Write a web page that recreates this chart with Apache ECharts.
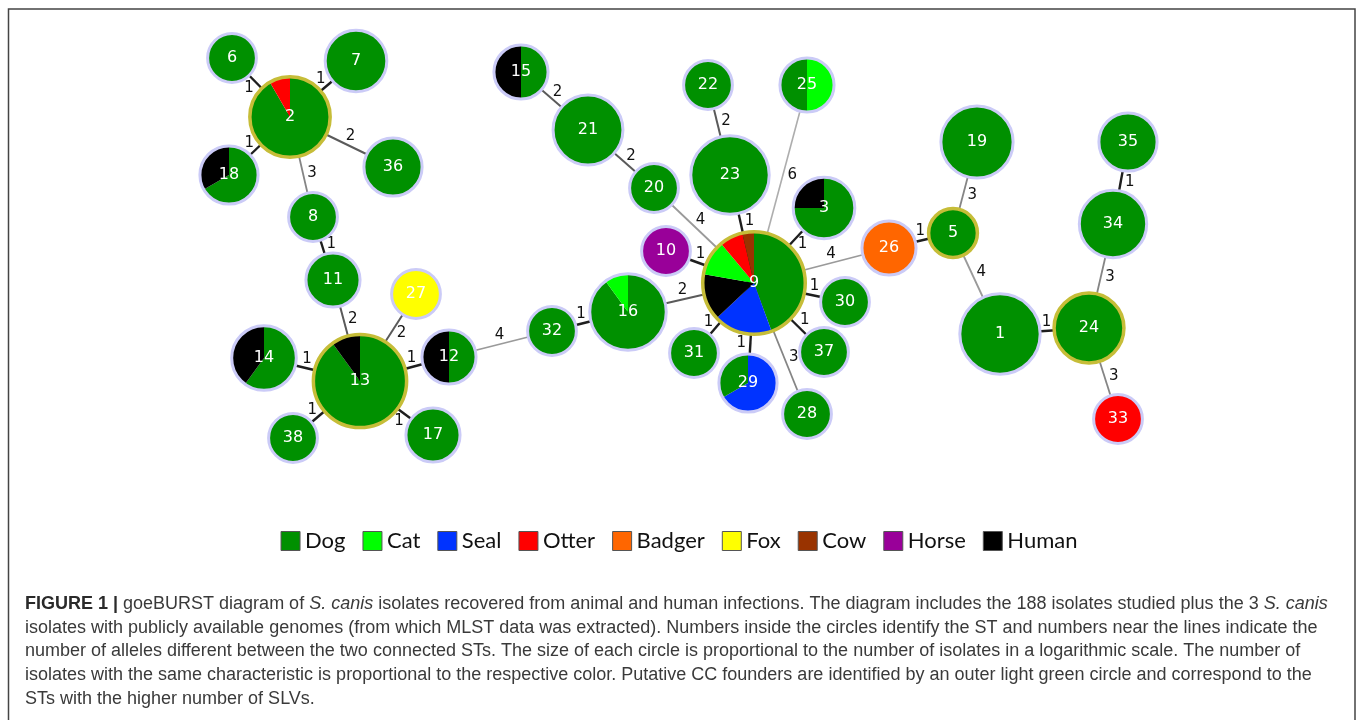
<!DOCTYPE html>
<html><head><meta charset="utf-8">
<script src="https://cdn.jsdelivr.net/npm/echarts@6/dist/echarts.min.js"></script>
<style>html,body{margin:0;padding:0;background:#fff}#c{width:1358px;height:720px}</style>
</head><body><div id="c"></div>
<script>
// ---- data ----
const species = ['Dog','Cat','Seal','Otter','Badger','Fox','Cow','Horse','Human'];
const stIds = [1,2,3,5,6,7,8,9,10,11,12,13,14,15,16,17,18,19,20,21,22,23,24,25,26,27,28,29,30,31,32,33,34,35,36,37,38];
// layout coordinates of each ST node in the goeBURST diagram
const stX = [1000,290,824,953,232,356,313,754,666,333,449,360,264,521,628,433,229,977,654,588,708,730,1089,807,889,416,807,748,845,694,552,1118,1113,1128,393,824,293];
const stY = [334,117,208,233,58,61,217,283,251,280,357,381,358,72,312,435,175,142,188,130,85,175,328,85,248,294,414,383,302,353,331,419,224,142,167,352,438];
// isolates per ST by host (slice order clockwise from 12 o'clock)
const stIsolates = [
  [['Dog',12]],
  [['Dog',11],['Otter',1]],
  [['Dog',3],['Human',1]],
  [['Dog',1]],
  [['Dog',1]],
  [['Dog',4]],
  [['Dog',1]],
  [['Dog',12],['Seal',5],['Human',4],['Cat',3],['Otter',2],['Cow',1]],
  [['Horse',1]],
  [['Dog',2]],
  [['Dog',1],['Human',1]],
  [['Dog',18],['Human',2]],
  [['Dog',3],['Human',2]],
  [['Dog',1],['Human',1]],
  [['Dog',9],['Cat',1]],
  [['Dog',2]],
  [['Dog',2],['Human',1]],
  [['Dog',8]],
  [['Dog',1]],
  [['Dog',7]],
  [['Dog',1]],
  [['Dog',11]],
  [['Dog',7]],
  [['Cat',1],['Dog',1]],
  [['Badger',2]],
  [['Fox',1]],
  [['Dog',1]],
  [['Seal',2],['Dog',1]],
  [['Dog',1]],
  [['Dog',1]],
  [['Dog',1]],
  [['Otter',1]],
  [['Dog',6]],
  [['Dog',3]],
  [['Dog',3]],
  [['Dog',1]],
  [['Dog',1]]
];
const founders = [2,5,9,13,24];
const edgeFrom = [2,2,2,2,18,8,11,27,14,13,38,17,12,32,16,31,29,9,3,9,9,9,10,20,23,25,15,21,22,26,19,5,1,34,24,35];
const edgeTo   = [6,7,36,8,2,11,13,13,13,12,13,13,32,16,9,9,9,28,9,30,37,26,9,9,9,9,21,20,23,5,5,1,24,24,33,34];
const edgeDist = [1,1,2,3,1,1,2,2,1,1,1,1,4,1,2,1,1,3,1,1,1,4,1,4,1,6,2,2,2,1,3,4,1,3,3,1];

// ---- styles ----
const speciesColors = ['#009000','#00ff00','#0033ff','#ff0000','#ff6600','#ffff00','#993300','#990099','#000000'];
const colorOf = {}; species.forEach((s,i)=>colorOf[s]=speciesColors[i]);
const edgeShade = {1:['#1e1e1e',2.4],2:['#5a5a5a',2],3:['#858585',1.8],4:['#9a9a9a',1.8],6:['#adadad',1.6]};

function totalOf(i){return stIsolates[i].reduce((a,p)=>a+p[1],0);}
function radiusOf(i){return 19.5 + 6.4*Math.sqrt(totalOf(i));}
const idxOf = id => stIds.indexOf(id);

const chart = echarts.init(document.getElementById('c'));

const nodeSeries = {
  type:'custom', name:'nodes', coordinateSystem:'cartesian2d', z:3, clip:false, silent:true,
  data: stIds.map((id,i)=>[stX[i], stY[i], i]),
  encode:{x:0,y:1},
  renderItem:(params, api)=>{
    const i = api.value(2);
    const c = api.coord([api.value(0), api.value(1)]);
    const unit = api.size([1,0])[0];
    const r = radiusOf(i)*unit;
    const total = totalOf(i);
    const children = [];
    let a = -Math.PI/2;
    stIsolates[i].forEach(([sp,n])=>{
      const da = n/total*2*Math.PI;
      children.push({type:'sector', shape:{cx:c[0],cy:c[1],r0:0,r:r-2,startAngle:a,endAngle:a+da,clockwise:true}, style:{fill:colorOf[sp]}});
      a += da;
    });
    const founder = founders.includes(stIds[i]);
    children.push({type:'circle', shape:{cx:c[0],cy:c[1],r:r-1.5}, style:{fill:'none', stroke: founder?'#c6bd38':'#cbcbf7', lineWidth: founder?3.5:3}});
    children.push({type:'text', x:c[0], y:c[1], style:{text:String(stIds[i]), fill:'#fff', font:'16px "DejaVu Sans"', align:'center', verticalAlign:'middle'}});
    return {type:'group', children};
  }
};

const edgeSeries = {
  type:'custom', name:'edges', coordinateSystem:'cartesian2d', z:2, clip:false, silent:true,
  data: edgeFrom.map((f,k)=>{const a=idxOf(f), b=idxOf(edgeTo[k]); return [stX[a], stY[a], stX[b], stY[b], a, b, edgeDist[k]];}),
  encode:{x:[0,2], y:[1,3]},
  renderItem:(params, api)=>{
    const p = api.coord([api.value(0), api.value(1)]);
    const q = api.coord([api.value(2), api.value(3)]);
    const unit = api.size([1,0])[0];
    const ra = radiusOf(api.value(4))*unit, rb = radiusOf(api.value(5))*unit;
    const d = api.value(6);
    const dx = q[0]-p[0], dy = q[1]-p[1], L = Math.hypot(dx,dy);
    const ux = dx/L, uy = dy/L;
    const p1 = [p[0]+ux*ra, p[1]+uy*ra], p2 = [q[0]-ux*rb, q[1]-uy*rb];
    const mx = (p1[0]+p2[0])/2 + uy*9, my = (p1[1]+p2[1])/2 - ux*9;
    const st = edgeShade[d] || ['#999',1.8];
    return {type:'group', children:[
      {type:'line', shape:{x1:p[0],y1:p[1],x2:q[0],y2:q[1]}, style:{stroke:st[0], lineWidth:st[1]}},
      {type:'text', x:mx, y:my, z2:10, style:{text:String(d), fill:'#111', font:'15px "DejaVu Sans"', align:'center', verticalAlign:'middle'}}
    ]};
  }
};

const legendSeries = species.map((s,i)=>({type:'scatter', name:s, data:[], itemStyle:{color:speciesColors[i], opacity:1}}));

const capFamily = '"Liberation Sans", Arial, sans-serif';
const capFont = {fontSize:18, fontFamily:capFamily, fill:'#3a3a3a'};
const capRich = {
  b:{fontSize:18, fontFamily:capFamily, fontWeight:'bold', fill:'#2a2a2a'},
  i:{fontSize:18, fontFamily:capFamily, fontStyle:'italic', fill:'#3a3a3a'}
};
const captionLines = [
  '{b|FIGURE 1 |} goeBURST diagram of {i|S. canis} isolates recovered from animal and human infections. The diagram includes the 188 isolates studied plus the 3 {i|S. canis}',
  'isolates with publicly available genomes (from which MLST data was extracted). Numbers inside the circles identify the ST and numbers near the lines indicate the',
  'number of alleles different between the two connected STs. The size of each circle is proportional to the number of isolates in a logarithmic scale. The number of',
  'isolates with the same characteristic is proportional to the respective color. Putative CC founders are identified by an outer light green circle and correspond to the',
  'STs with the higher number of SLVs.'
];

chart.setOption({
  animation:false,
  grid:{left:0,right:0,top:0,bottom:0},
  xAxis:{type:'value', min:0, max:1358, show:false},
  yAxis:{type:'value', min:0, max:720, inverse:true, show:false},
  legend:{
    data:species, left:'center', top:525, icon:'rect', itemWidth:19, itemHeight:19, itemGap:17,
    itemStyle:{borderColor:'#555', borderWidth:1, opacity:1},
    textStyle:{fontSize:22, fontFamily:'Lato', color:'#111', padding:[0,0,0,0]},
    selectedMode:false
  },
  graphic:[
    {type:'rect', shape:{x:8.5,y:9,width:1346.5,height:760}, style:{fill:'none', stroke:'#444', lineWidth:1.5}, silent:true},
    ...captionLines.map((t,k)=>({type:'text', left:25, top:595+k*23.7, silent:true,
      style:Object.assign({text:t, rich:capRich}, capFont)}))
  ],
  series:[edgeSeries, nodeSeries, ...legendSeries]
});
</script></body></html>
